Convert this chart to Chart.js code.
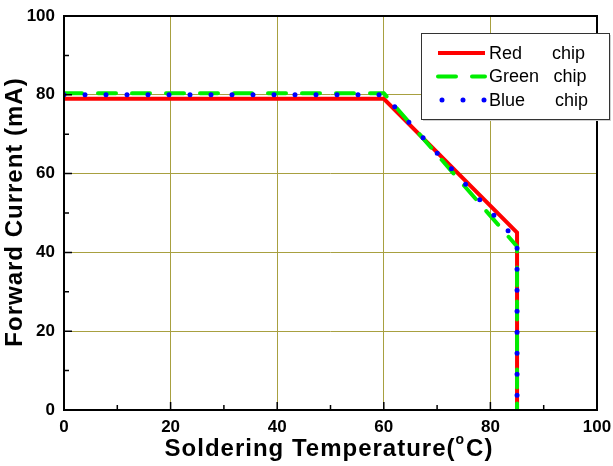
<!DOCTYPE html>
<html>
<head>
<meta charset="utf-8">
<script src="https://cdn.jsdelivr.net/npm/chart.js@4.4.1/dist/chart.umd.min.js"></script>
<style>
  html, body { margin: 0; padding: 0; background: #fff; }
  #wrap { width: 613px; height: 466px; }
</style>
</head>
<body>
<div id="wrap"><canvas id="grafik" width="613" height="466"></canvas></div>
<script>
// veriler
const tempRed = [0, 60, 85, 85];
const currentRed = [79, 79, 45, 0];
const tempGreen = [0, 60, 85, 85];
const currentGreen = [80.4, 80.4, 41.5, 0];
const tempBlue = [0, 60, 85, 85];
const currentBlue = [80, 80, 43, 0];
const xTicks = [0, 20, 40, 60, 80, 100];
const yTicks = [0, 20, 40, 60, 80, 100];
const seriesNames = ["Red", "Green", "Blue"];

const pts = (xs, ys) => xs.map((x, i) => ({ x: x, y: ys[i] }));
const gridColor = "rgb(168,160,64)";
const FONT = "'Liberation Sans', Arial, sans-serif";

// çerçeve, iç tikler, eksen başlıkları ve lejant
const decor = {
  id: "decor",
  afterDraw(chart) {
    const { ctx, chartArea: a, scales } = chart;
    ctx.save();
    // ticks (inward)
    ctx.strokeStyle = "#000";
    ctx.lineWidth = 1.5;
    for (let v = 0; v <= 100; v += 10) {
      const len = v % 20 === 0 ? 8 : 5;
      const px = scales.x.getPixelForValue(v);
      const py = scales.y.getPixelForValue(v);
      ctx.beginPath();
      ctx.moveTo(px, a.bottom); ctx.lineTo(px, a.bottom - len);
      ctx.moveTo(a.left, py); ctx.lineTo(a.left + len, py);
      ctx.stroke();
    }
    ctx.lineWidth = 2;
    ctx.strokeRect(a.left, a.top, a.right - a.left, a.bottom - a.top);

    // axis titles
    ctx.fillStyle = "#000";
    ctx.textBaseline = "middle";
    ctx.letterSpacing = "1px";
    const big = "bold 24px " + FONT, small = "bold 14px " + FONT;
    const p1 = "Soldering Temperature(";
    const p2 = "C)";
    ctx.font = big;
    const w1 = ctx.measureText(p1).width;
    const w2 = ctx.measureText(p2).width;
    ctx.font = small;
    const wo = ctx.measureText("o").width + 1;
    const sx = 329 - (w1 + wo + w2) / 2;
    ctx.textAlign = "left";
    ctx.font = big;
    ctx.fillText(p1, sx, 449);
    ctx.font = small;
    ctx.fillText("o", sx + w1, 440);
    ctx.font = big;
    ctx.fillText(p2, sx + w1 + wo, 449);

    ctx.translate(15, 212);
    ctx.rotate(-Math.PI / 2);
    ctx.textAlign = "center";
    ctx.fillText("Forward Current (mA)", 0, 0);
    ctx.setTransform(1, 0, 0, 1, 0, 0);
    ctx.letterSpacing = "0px";

    // legend
    const bx = 421, by = 33, bw = 188, bh = 86;
    ctx.fillStyle = "#d0d0d0";
    ctx.fillRect(bx + 2, by + 2, bw, bh);
    ctx.fillStyle = "#fff";
    ctx.fillRect(bx, by, bw, bh);
    ctx.strokeStyle = "#333";
    ctx.lineWidth = 1;
    ctx.strokeRect(bx + 0.5, by + 0.5, bw, bh);
    const ds = chart.data.datasets;
    ctx.font = "18px " + FONT;
    ctx.textAlign = "left";
    ds.forEach((d, i) => {
      const yy = 53 + i * 23.5;
      ctx.strokeStyle = d.borderColor;
      ctx.lineWidth = d.borderWidth;
      ctx.lineCap = d.borderCapStyle || "butt";
      ctx.setLineDash(d.borderDash || []);
      ctx.lineDashOffset = i === 2 ? -4 : 0;
      ctx.beginPath();
      ctx.moveTo(438, yy); ctx.lineTo(485, yy);
      ctx.stroke();
      ctx.setLineDash([]);
      ctx.fillStyle = "#000";
      ctx.fillText(seriesNames[i], 489, yy + 1);
      ctx.fillText("chip", 552 + i * 1.5, yy + 1);
    });
    ctx.restore();
  }
};

new Chart(document.getElementById("grafik"), {
  type: "line",
  data: {
    datasets: [
      {
        label: "Red chip",
        data: pts(tempRed, currentRed),
        borderColor: "#ff0000",
        borderWidth: 4,
        order: 3
      },
      {
        label: "Green chip",
        data: pts(tempGreen, currentGreen),
        borderColor: "#00ee00",
        borderWidth: 4,
        borderDash: [18, 16],
        borderCapStyle: "round",
        order: 2
      },
      {
        label: "Blue chip",
        data: pts(tempBlue, currentBlue),
        borderColor: "#0000ff",
        borderWidth: 5,
        borderDash: [0, 21],
        borderCapStyle: "round",
        order: 1
      }
    ]
  },
  options: {
    responsive: false,
    animation: false,
    elements: { point: { radius: 0 }, line: { tension: 0 } },
    layout: { padding: { top: 16, right: 16, left: 0, bottom: 0 } },
    plugins: { legend: { display: false }, tooltip: { enabled: false } },
    scales: {
      x: {
        type: "linear",
        min: 0, max: 100,
        afterFit: (s) => { s.height = 56; s.paddingLeft = 0; s.paddingRight = 0; },
        afterBuildTicks: (s) => { s.ticks = xTicks.map(v => ({ value: v })); },
        grid: { drawTicks: false, color: gridColor, lineWidth: 1 },
        border: { display: false },
        ticks: {
          padding: 7,
          color: "#000",
          font: { family: FONT, size: 17, weight: "bold" }
        }
      },
      y: {
        type: "linear",
        min: 0, max: 100,
        afterFit: (s) => { s.width = 64; s.paddingTop = 0; s.paddingBottom = 0; },
        afterBuildTicks: (s) => { s.ticks = yTicks.map(v => ({ value: v })); },
        grid: { drawTicks: false, color: gridColor, lineWidth: 1 },
        border: { display: false },
        ticks: {
          padding: 9,
          color: "#000",
          font: { family: FONT, size: 17, weight: "bold" }
        }
      }
    }
  },
  plugins: [decor]
});
</script>
</body>
</html>
